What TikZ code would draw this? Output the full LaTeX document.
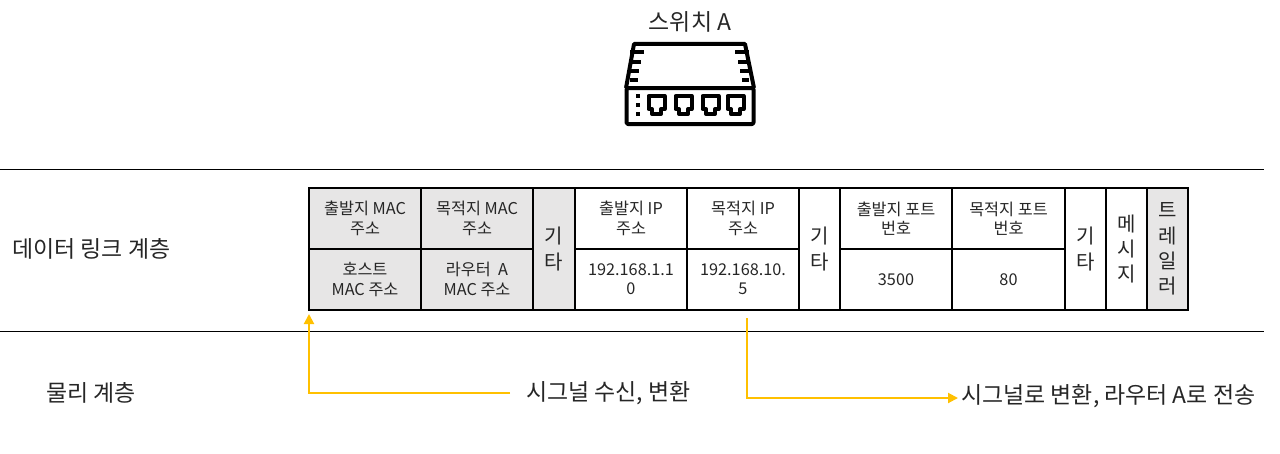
\documentclass[tikz,border=0pt]{standalone}
\usepackage{fontspec}
\setmainfont{Noto Sans CJK KR}
\usetikzlibrary{calc,positioning,arrows.meta}
\definecolor{cellgray}{HTML}{E7E6E6}
\definecolor{signalyellow}{HTML}{FFC000}
\tikzset{
  cellbox/.style={draw,line width=1.5pt,inner sep=0pt,outer sep=0pt,align=center,anchor=north west,font=\fontsize{12.2}{14.5}\selectfont,text=black!85},
  tallbox/.style={cellbox,font=\fontsize{15}{19}\selectfont},
  graybox/.style={fill=cellgray},
  layerlabel/.style={inner sep=0pt,font=\fontsize{17.2}{20}\selectfont,text=black!85},
  signal/.style={line width=1.5pt,signalyellow,-{Triangle[length=7.5pt,width=7.5pt]}}
}
\begin{document}
\begin{tikzpicture}[x=0.75pt,y=-0.75pt]
\useasboundingbox (0,0) rectangle (1280,453);
% layer rules
\draw[line width=0.75pt] (0,169) -- (1264,169);
\draw[line width=0.75pt] (0,331) -- (1264,331);
% switch title
\node[layerlabel] (switchlabel) at (690,22) {스위치 A};
% switch icon
\draw[line width=3pt,line join=round] (626,88) -- (634,44) -- (745,44) -- (754,88);
\draw[line width=3pt,line join=round,rounded corners=1pt] (626.5,88) rectangle (753.5,124);
\foreach \y/\xl/\xr in {52/644/735,62/641/738,71/639/740,80/638/742} {
  \draw[line width=3pt] (630,\y) -- (\xl,\y);
  \draw[line width=3pt] (749,\y) -- (\xr,\y);
}
\foreach \y in {94,103,112} {
  \fill (636,\y) rectangle ++(4,4);
}
\foreach \x in {648.5,675.5,702.5,727.5} {
  \draw[line width=3pt,line join=round] (\x,96) -- ++(16,0) -- ++(0,13) -- ++(-3.5,0) -- ++(0,5) -- ++(-9,0) -- ++(0,-5) -- ++(-3.5,0) -- cycle;
}
% header row
\node[cellbox,graybox,minimum width=84pt,minimum height=45.75pt] (srcmac) at (309,188) {출발지 MAC\\주소};
\node[cellbox,graybox,minimum width=84pt,minimum height=45.75pt] (dstmac) at (421,188) {목적지 MAC\\주소};
\node[tallbox,graybox,minimum width=31.5pt,minimum height=91.5pt] (etcmac) at (533,188) {기\\타};
\node[cellbox,minimum width=84pt,minimum height=45.75pt] (srcip) at (575,188) {출발지 IP\\주소};
\node[cellbox,minimum width=84pt,minimum height=45.75pt] (dstip) at (687,188) {목적지 IP\\주소};
\node[tallbox,minimum width=30.75pt,minimum height=91.5pt] (etcip) at (799,188) {기\\타};
\node[cellbox,minimum width=84pt,minimum height=45.75pt] (srcport) at (840,188) {출발지 포트\\번호};
\node[cellbox,minimum width=84.75pt,minimum height=45.75pt] (dstport) at (952,188) {목적지 포트\\번호};
\node[tallbox,minimum width=30.75pt,minimum height=91.5pt] (etcport) at (1065,188) {기\\타};
\node[tallbox,minimum width=30.75pt,minimum height=91.5pt] (message) at (1106,188) {메\\시\\지};
\node[tallbox,graybox,minimum width=30.75pt,minimum height=91.5pt] (trailer) at (1147,188) {트\\레\\일\\러};
% value row
\node[cellbox,graybox,minimum width=84pt,minimum height=45.75pt] (hostmac) at (309,249) {호스트\\MAC 주소};
\node[cellbox,graybox,minimum width=84pt,minimum height=45.75pt] (routermac) at (421,249) {라우터\ \ A\\MAC 주소};
\node[cellbox,minimum width=84pt,minimum height=45.75pt] (srcipval) at (575,249) {192.168.1.1\\0};
\node[cellbox,minimum width=84pt,minimum height=45.75pt] (dstipval) at (687,249) {192.168.10.\\5};
\node[cellbox,minimum width=84pt,minimum height=45.75pt] (srcportval) at (840,249) {3500};
\node[cellbox,minimum width=84.75pt,minimum height=45.75pt] (dstportval) at (952,249) {80};
% layer names
\node[layerlabel,anchor=west] (linklayer) at (12,249) {데이터 링크 계층};
\node[layerlabel,anchor=west] (physlayer) at (46,393) {물리 계층};
% signal labels
\node[layerlabel,anchor=west] (rxlabel) at (526,393) {시그널 수신, 변환};
\node[layerlabel,anchor=west] (txlabel) at (961,396) {시그널로 변환, 라우터 A로 전송};
% signal arrows
\coordinate (rxend) at (309,314);
\coordinate (rxstart) at ($(rxlabel.west)+(-16,0)$);
\coordinate (txstart) at (746.5,318);
\coordinate (txend) at (958,398);
\draw[signal] (rxstart) -| (rxend);
\draw[signal] (txstart) |- (txend);
\end{tikzpicture}
\end{document}
